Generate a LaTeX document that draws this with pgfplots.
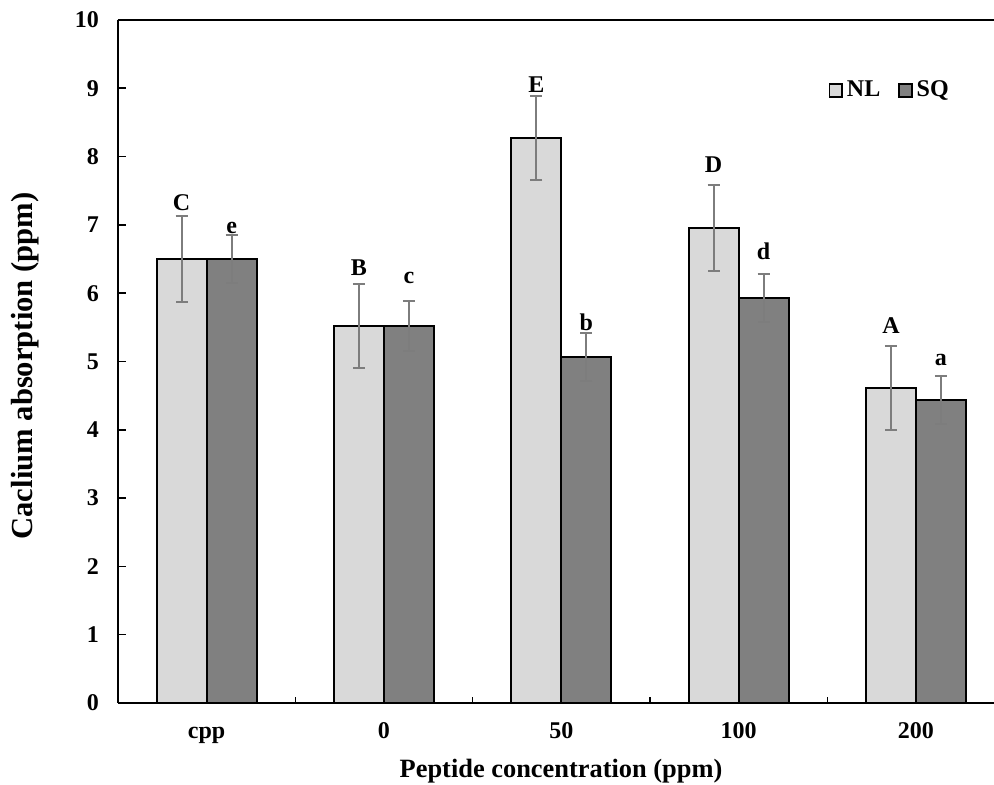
\documentclass[border=0pt]{standalone}
\usepackage{pgfplots}
\pgfplotsset{compat=1.18}
\usepackage{fontspec}
\setmainfont{Liberation Serif}

\definecolor{nlfill}{RGB}{217,217,217}
\definecolor{sqfill}{RGB}{128,128,128}
\definecolor{errgray}{RGB}{125,125,125}

\begin{document}
\begin{tikzpicture}
\begin{axis}[
  scale only axis,
  width=438pt, height=341.5pt,
  xmin=-0.5, xmax=4.44,
  ymin=0, ymax=10,
  axis lines=left,
  axis line style={-, line width=1pt},
  ybar=0pt, bar width=25pt,
  xtick={0,1,2,3,4},
  xticklabels={cpp,0,50,100,200},
  major x tick style={draw=none},
  minor xtick={0.5,1.5,2.5,3.5},
  minor x tick style={black, line width=0.8pt},
  minor tick length=2.8pt,
  ytick={0,1,...,10},
  major y tick style={black, line width=0.8pt},
  major tick length=4pt,
  tick align=inside,
  /pgf/number format/assume math mode=true,
  tick label style={font=\bfseries\fontsize{12}{14}\selectfont},
  xticklabel style={anchor=base, yshift=-18pt},
  yticklabel style={xshift=-6pt},
  xlabel={\bfseries Peptide concentration (ppm)},
  xlabel style={at={(axis description cs:0.5057,-0.0996)}, anchor=center,
                font=\fontsize{13.2}{15}\selectfont},
  ylabel={\bfseries Caclium absorption (ppm)},
  ylabel style={at={(axis description cs:-0.1062,0.4934)}, anchor=center,
                font=\fontsize{15.3}{18}\selectfont},
  legend columns=2,
  legend style={at={(axis description cs:0.882,0.897)}, anchor=center,
                draw=none, fill=none,
                font=\bfseries\fontsize{12}{14}\selectfont,
                /tikz/every even column/.append style={column sep=7pt}},
  error bars/y dir=both,
  error bars/y explicit,
  error bars/error bar style={errgray, line width=1pt},
  error bars/error mark options={rotate=90, mark size=3pt, line width=1pt, errgray},
]

% NL series
\addplot+[fill=nlfill, draw=black, line width=1pt,
  legend image code/.code={\draw[fill=nlfill, draw=black, line width=0.8pt] (0pt,-3.2pt) rectangle (6.4pt,3.2pt);}]
  coordinates {
    (0,6.50) +- (0,0.63)
    (1,5.52) +- (0,0.62)
    (2,8.27) +- (0,0.62)
    (3,6.95) +- (0,0.63)
    (4,4.61) +- (0,0.62)
  };
\addlegendentry{NL}

% SQ series
\addplot+[fill=sqfill, draw=black, line width=1pt,
  legend image code/.code={\draw[fill=sqfill, draw=black, line width=0.8pt] (0pt,-3.2pt) rectangle (6.4pt,3.2pt);}]
  coordinates {
    (0,6.50) +- (0,0.35)
    (1,5.52) +- (0,0.36)
    (2,5.06) +- (0,0.35)
    (3,5.93) +- (0,0.35)
    (4,4.44) +- (0,0.35)
  };
\addlegendentry{SQ}

% significance letters
\begin{scope}[every node/.style={font=\bfseries\fontsize{12}{14}\selectfont, anchor=center, inner sep=0pt}]
\node at ([xshift=-12.5pt]axis cs:0,7.32) {C};
\node at ([xshift=12.5pt]axis cs:0,6.95) {e};
\node at ([xshift=-12.5pt]axis cs:1,6.37) {B};
\node at ([xshift=12.5pt]axis cs:1,6.22) {c};
\node at ([xshift=-12.5pt]axis cs:2,9.05) {E};
\node at ([xshift=12.5pt]axis cs:2,5.58) {b};
\node at ([xshift=-12.5pt]axis cs:3,7.88) {D};
\node at ([xshift=12.5pt]axis cs:3,6.62) {d};
\node at ([xshift=-12.5pt]axis cs:4,5.53) {A};
\node at ([xshift=12.5pt]axis cs:4,5.02) {a};
\end{scope}

% top frame line
\draw[line width=1pt] (rel axis cs:0,1) -- (rel axis cs:1,1);

\coordinate (bl) at (rel axis cs:0,0);
\coordinate (tr) at (rel axis cs:1,1);
\end{axis}
\pgfresetboundingbox
\path[use as bounding box] ([shift={(-59pt,-41pt)}]bl) rectangle ([shift={(0pt,10pt)}]tr);
\end{tikzpicture}
\end{document}
